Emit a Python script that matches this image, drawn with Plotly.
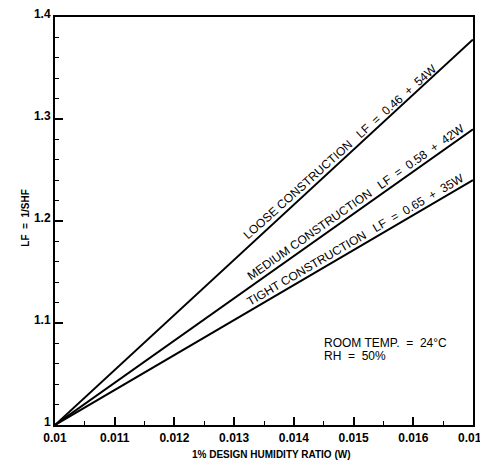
import plotly.graph_objects as go

# Data
w_range = [0.010, 0.017]
loose_lf = [1.0, 1.378]
medium_lf = [1.0, 1.290]
tight_lf = [1.0, 1.240]

x_ticks = [0.010, 0.011, 0.012, 0.013, 0.014, 0.015, 0.016, 0.017]
x_ticklabels = ["0.01", "0.011", "0.012", "0.013", "0.014", "0.015", "0.016", "0.017"]
y_ticks = [1.0, 1.1, 1.2, 1.3, 1.4]
y_ticklabels = ["1", "1.1", "1.2", "1.3", "1.4"]

S = "\u00a0"
labels = [
    "LOOSE CONSTRUCTION" + S * 3 + "LF" + S * 2 + "=" + S * 2 + "0.46" + S * 2 + "+" + S * 2 + "54W",
    "MEDIUM CONSTRUCTION" + S * 3 + "LF" + S * 2 + "=" + S * 2 + "0.58" + S * 2 + "+" + S * 2 + "42W",
    "TIGHT CONSTRUCTION" + S * 3 + "LF" + S * 2 + "=" + S * 2 + "0.65" + S * 2 + "+" + S * 2 + "35W",
]

FONT = "Liberation Sans, Arial, Helvetica, sans-serif"

fig = go.Figure()
for ys in (loose_lf, medium_lf, tight_lf):
    fig.add_trace(go.Scatter(x=w_range, y=ys, mode="lines",
                             line=dict(color="black", width=2), showlegend=False,
                             hoverinfo="skip"))

# rotated labels along lines
label_pos = [(0.014773, 1.2676, -41.9), (0.015041, 1.2186, -35.0), (0.015024, 1.1814, -30.3)]
for txt, (lx, ly, ang) in zip(labels, label_pos):
    fig.add_annotation(x=lx, y=ly, xref="x", yref="y", text=txt, showarrow=False,
                       textangle=ang, font=dict(family=FONT, size=12, color="black"))

fig.add_annotation(x=0.014471, y=1.0804, xref="x", yref="y", xanchor="left", yanchor="middle",
                   showarrow=False, text="ROOM TEMP." + S * 2 + "=" + S * 2 + "24°C",
                   font=dict(family=FONT, size=12, color="black"))
fig.add_annotation(x=0.014471, y=1.0676, xref="x", yref="y", xanchor="left", yanchor="middle",
                   showarrow=False, text="RH" + S * 2 + "=" + S * 2 + "50%",
                   font=dict(family=FONT, size=12, color="black"))

# axis titles
fig.add_annotation(x=0.519, y=-0.0735, xref="paper", yref="paper", yanchor="middle",
                   text="<b>1% DESIGN HUMIDITY RATIO (W)</b>", showarrow=False,
                   font=dict(family=FONT, size=10, color="black"))
fig.add_annotation(x=-0.0885, y=0.507, xref="paper", yref="paper", textangle=-90,
                   text="<b>LF" + S * 2 + "=" + S * 2 + "1/SHF</b>", showarrow=False,
                   font=dict(family=FONT, size=10, color="black"))

tickfont = dict(family="Liberation Sans, Arial, sans-serif", size=12, color="black", weight="bold")
fig.update_xaxes(range=[0.010, 0.017], tickvals=x_ticks, ticktext=x_ticklabels,
                 ticks="inside", ticklen=8, tickwidth=1.5, tickcolor="black",
                 minor=dict(ticks="inside", ticklen=4, dtick=0.0005, tickcolor="black", tickwidth=1),
                 showline=True, linecolor="black", linewidth=2, mirror=True,
                 showgrid=False, zeroline=False, tickfont=tickfont, automargin=False,
                 ticklabeloverflow="allow", ticklabelstandoff=1)
fig.update_yaxes(range=[1.0, 1.4], tickvals=y_ticks, ticktext=y_ticklabels,
                 ticks="inside", ticklen=8, tickwidth=1.5, tickcolor="black",
                 minor=dict(ticks="inside", ticklen=4, dtick=0.02, tickcolor="black", tickwidth=1),
                 showline=True, linecolor="black", linewidth=2, mirror=True,
                 showgrid=False, zeroline=False, tickfont=tickfont, automargin=False,
                 ticklabeloverflow="allow", ticklabelshift=-3)

# page body has an 8px margin, so the figure is 8px smaller and offset
fig.update_layout(width=480, height=454, margin=dict(l=47, r=15, t=9, b=37),
                  plot_bgcolor="white", paper_bgcolor="white")

fig.write_html("out.html")
